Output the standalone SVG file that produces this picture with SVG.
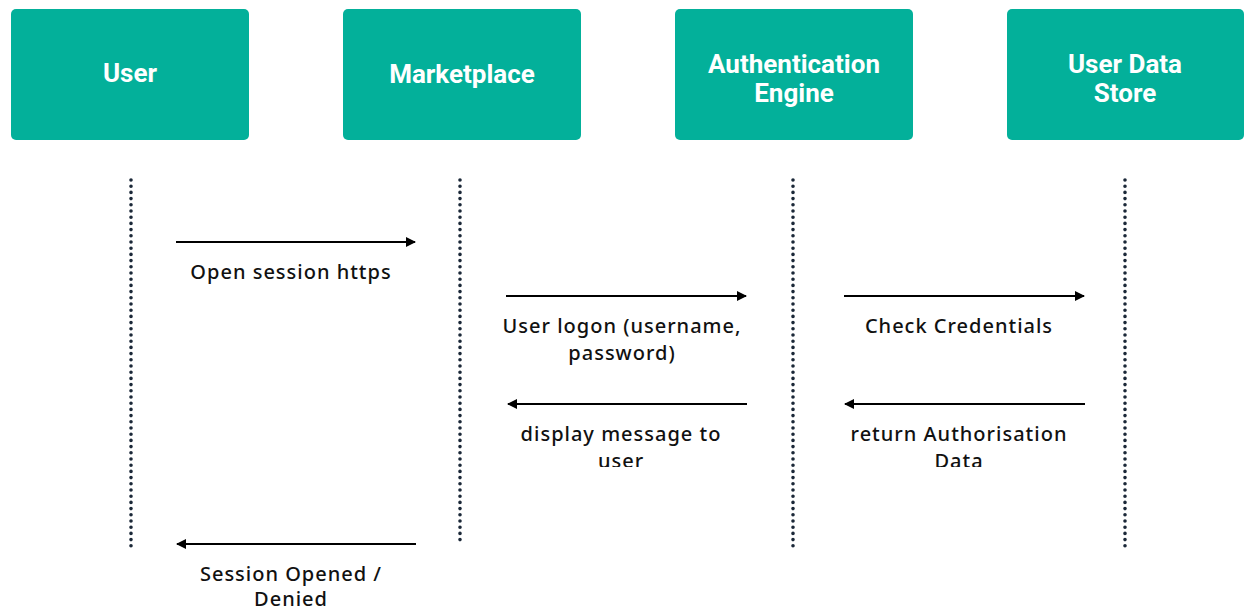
<svg xmlns="http://www.w3.org/2000/svg" width="1250" height="608" viewBox="0 0 1250 608">
<style>
.box{fill:#03B09A;}
.bt{font-family:Roboto,"Noto Sans",sans-serif;font-weight:700;font-size:26px;fill:#ffffff;text-anchor:middle;}
.life{stroke:#1b2838;stroke-width:3.6;stroke-linecap:round;stroke-dasharray:0 6.2;fill:none;}
.msg{stroke:#000;stroke-width:2.2;fill:none;}
.lt{font-family:"Noto Sans","Open Sans",sans-serif;font-weight:500;font-size:20px;letter-spacing:1px;fill:#111;text-anchor:middle;}
</style>
<defs>
<marker id="ah" viewBox="0 0 10 10" refX="9" refY="5" markerWidth="10" markerHeight="11" markerUnits="userSpaceOnUse" orient="auto">
<path d="M0,0 L10,5 L0,10 Z" fill="#000"/>
</marker>
<clipPath id="c1"><rect x="0" y="0" width="1250" height="467"/></clipPath>
</defs>
<g id="node-user"><rect class="box" x="11" y="9" width="238" height="131" rx="5"/><text class="bt" x="130" y="82">User</text></g>
<g id="node-marketplace"><rect class="box" x="343" y="9" width="238" height="131" rx="5"/><text class="bt" x="462" y="83">Marketplace</text></g>
<g id="node-auth"><rect class="box" x="675" y="9" width="238" height="131" rx="5"/><text class="bt" x="794" y="73">Authentication</text><text class="bt" x="794" y="102">Engine</text></g>
<g id="node-store"><rect class="box" x="1007" y="9" width="237" height="131" rx="5"/><text class="bt" x="1125" y="73">User Data</text><text class="bt" x="1125" y="102">Store</text></g>
<g id="lifelines">
<line class="life" x1="131" y1="180" x2="131" y2="548"/>
<line class="life" x1="460" y1="180" x2="460" y2="540"/>
<line class="life" x1="793" y1="180" x2="793" y2="548"/>
<line class="life" x1="1125" y1="180" x2="1125" y2="548"/>
</g>
<g id="connectors">
<line class="msg" x1="176" y1="242" x2="415" y2="242" marker-end="url(#ah)"/>
<line class="msg" x1="506" y1="296" x2="746" y2="296" marker-end="url(#ah)"/>
<line class="msg" x1="844" y1="296" x2="1084" y2="296" marker-end="url(#ah)"/>
<line class="msg" x1="747" y1="404" x2="508" y2="404" marker-end="url(#ah)"/>
<line class="msg" x1="1085" y1="404" x2="845" y2="404" marker-end="url(#ah)"/>
<line class="msg" x1="416" y1="544" x2="177" y2="544" marker-end="url(#ah)"/>
</g>
<g id="labels">
<text class="lt" x="291" y="279">Open session https</text>
<text class="lt" x="622" y="333">User logon (username,</text>
<text class="lt" x="622" y="360">password)</text>
<text class="lt" x="959" y="333">Check Credentials</text>
<g clip-path="url(#c1)">
<text class="lt" x="621" y="441">display message to</text>
<text class="lt" x="621" y="468">user</text>
<text class="lt" x="959" y="441">return Authorisation</text>
<text class="lt" x="959" y="468">Data</text>
</g>
<text class="lt" x="291" y="581">Session Opened /</text>
<text class="lt" x="291" y="606">Denied</text>
</g>
</svg>
